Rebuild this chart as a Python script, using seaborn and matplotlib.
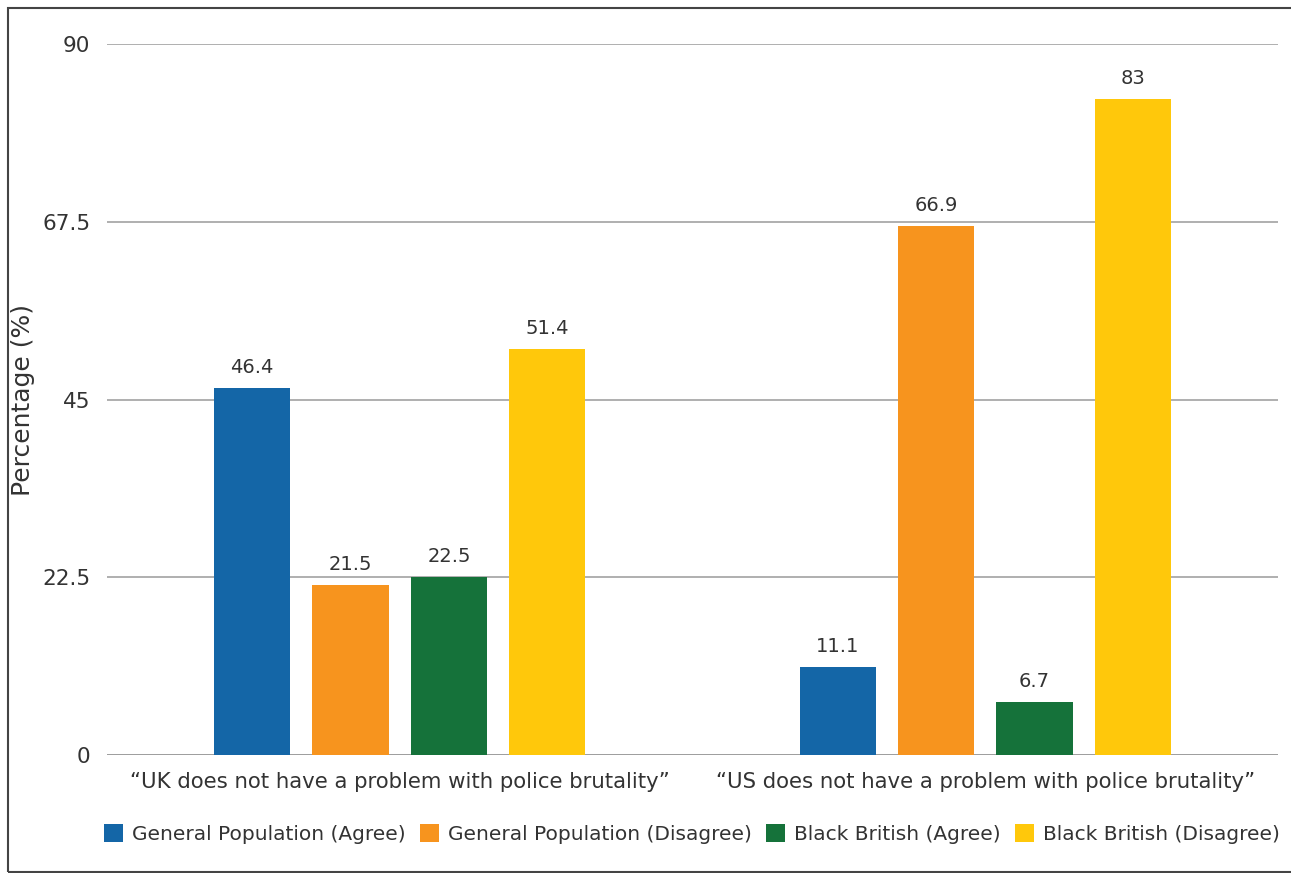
import matplotlib
matplotlib.use("Agg")
import matplotlib.pyplot as plt
import matplotlib.patches as mpatches
import seaborn as sns
import pandas as pd

statements = [
    "\u201cUK does not have a problem with police brutality\u201d",
    "\u201cUS does not have a problem with police brutality\u201d",
]
groups = [
    "General Population (Agree)",
    "General Population (Disagree)",
    "Black British (Agree)",
    "Black British (Disagree)",
]
uk_values = [46.4, 21.5, 22.5, 51.4]
us_values = [11.1, 66.9, 6.7, 83]
colors = ["#1466A7", "#F7941E", "#15723A", "#FFC80B"]
y_ticks = [0, 22.5, 45, 67.5, 90]
y_tick_labels = ["0", "22.5", "45", "67.5", "90"]

df = pd.DataFrame({
    "statement": [statements[0]] * 4 + [statements[1]] * 4,
    "group": groups * 2,
    "value": uk_values + us_values,
})

sns.set_theme(style="white")
plt.rcParams["font.family"] = ["DejaVu Sans"]
text_color = "#333333"

fig = plt.figure(figsize=(12.91, 8.73), dpi=100)
ax = fig.add_axes([107 / 1291, 1 - 755 / 873, (1278 - 107) / 1291, (755 - 44) / 873])

sns.barplot(data=df, x="statement", y="value", hue="group", order=statements,
            hue_order=groups, palette=colors, width=0.672, gap=0.225,
            saturation=1, linewidth=0, ax=ax, legend=False, zorder=3)

for container in ax.containers:
    ax.bar_label(container, labels=[f"{v:g}" for v in container.datavalues],
                 padding=8, fontsize=14, color=text_color)

ax.set_xlim(-0.5, 1.5)
ax.set_ylim(0, 90)
ax.set_yticks(y_ticks)
ax.set_yticklabels(y_tick_labels)
ax.yaxis.grid(True, color="#9a9a9a", linewidth=1.1, zorder=0)
ax.set_axisbelow(True)
for s in ax.spines.values():
    s.set_visible(False)
ax.axhline(0, color="#9a9a9a", linewidth=1.1, zorder=2)
ax.tick_params(axis="y", length=0, labelsize=15.5, colors=text_color, pad=12)
ax.tick_params(axis="x", length=0, labelsize=15.3, colors=text_color, pad=12)
ax.set_xlabel("")
ax.set_ylabel("Percentage (%)", fontsize=18, color=text_color)
ax.yaxis.set_label_coords((35 - 107) / 1171, 0.5)

handles = [mpatches.Patch(facecolor=c, edgecolor="none", label=g)
           for c, g in zip(colors, groups)]
fig.legend(handles=handles, loc="center", bbox_to_anchor=(692 / 1291, 1 - 834 / 873),
           ncol=4, frameon=False, fontsize=14.5, handlelength=0.95, handleheight=0.95,
           handletextpad=0.45, columnspacing=0.7, labelcolor=text_color)

fig.patches.append(mpatches.Rectangle((8 / 1291, 1 - 872 / 873), 1.2, 864 / 873,
                                      transform=fig.transFigure, fill=False,
                                      edgecolor="#444444", linewidth=1.5))

fig.savefig("out.png", dpi=100, facecolor="white")
